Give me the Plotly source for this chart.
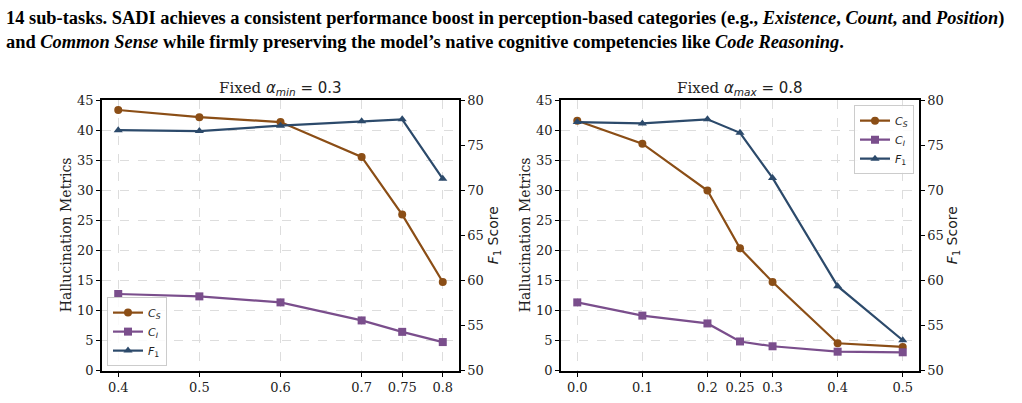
import plotly.graph_objects as go

# ---------------- data ----------------
x_left = [0.4, 0.5, 0.6, 0.7, 0.75, 0.8]
cs_left = [43.4, 42.2, 41.4, 35.6, 26.0, 14.8]
ci_left = [12.8, 12.4, 11.4, 8.4, 6.5, 4.8]
f1_left = [76.7, 76.6, 77.2, 77.7, 77.9, 71.3]

x_right = [0.0, 0.1, 0.2, 0.25, 0.3, 0.4, 0.5]
cs_right = [41.6, 37.8, 30.0, 20.4, 14.8, 4.6, 4.0]
ci_right = [11.4, 9.2, 7.9, 4.9, 4.1, 3.2, 3.1]
f1_right = [77.6, 77.45, 77.9, 76.4, 71.4, 59.4, 53.4]

left_ticks = ["0.4", "0.5", "0.6", "0.7", "0.75", "0.8"]
right_ticks = ["0.0", "0.1", "0.2", "0.25", "0.3", "0.4", "0.5"]

C_CS = "#8B4E16"
C_CI = "#7A4E8C"
C_F1 = "#2C4A6B"
SERIF = "DejaVu Serif"
SANS = "DejaVu Sans"

name_cs = "<i>C<sub>S</sub></i>"
name_ci = "<i>C<sub>I</sub></i>"
name_f1 = "<i>F</i><sub>1</sub>"

fig = go.Figure()

def add_series(x, y, color, symbol, name, xa, ya, legend):
    fig.add_trace(go.Scatter(
        x=x, y=y, mode="lines+markers", name=name,
        line=dict(color=color, width=2.2),
        marker=dict(color=color, symbol=symbol, size=8),
        xaxis=xa, yaxis=ya, legend=legend, showlegend=True))

add_series(x_left, cs_left, C_CS, "circle", name_cs, "x", "y", "legend")
add_series(x_left, ci_left, C_CI, "square", name_ci, "x", "y", "legend")
add_series(x_left, f1_left, C_F1, "triangle-up", name_f1, "x", "y2", "legend")
add_series(x_right, cs_right, C_CS, "circle", name_cs, "x2", "y3", "legend2")
add_series(x_right, ci_right, C_CI, "square", name_ci, "x2", "y3", "legend2")
add_series(x_right, f1_right, C_F1, "triangle-up", name_f1, "x2", "y4", "legend2")

W, H = 1022, 403
def px_x(p): return p / W
def px_y(p): return 1 - p / H

ydom = [px_y(378), px_y(97)]
xdom_l = [px_x(102), px_x(459)]
xdom_r = [px_x(561), px_x(919)]

tickfont = dict(family=SERIF, size=13, color="#222")
grid = dict(showgrid=True, gridcolor="#dddddd", griddash="dash", gridwidth=1)
common_x = dict(showline=True, linecolor="black", linewidth=1.5, mirror=True,
                ticks="outside", ticklen=4, tickcolor="black", tickfont=tickfont,
                zeroline=False, **grid)
common_y = dict(showline=True, linecolor="black", linewidth=1.5,
                ticks="outside", ticklen=4, tickcolor="black", tickfont=tickfont,
                zeroline=False)

fig.update_layout(
    width=W, height=H, margin=dict(l=0, r=0, t=0, b=0),
    paper_bgcolor="white", plot_bgcolor="white",
    xaxis=dict(domain=xdom_l, anchor="y", range=[0.38, 0.82],
               tickvals=x_left, ticktext=left_ticks, **common_x),
    yaxis=dict(domain=ydom, anchor="x", range=[0, 45], tickvals=list(range(0, 46, 5)),
               **common_y, **grid),
    yaxis2=dict(domain=ydom, anchor="x", overlaying="y", side="right", range=[50, 80],
                tickvals=list(range(50, 81, 5)), showgrid=False, **common_y),
    xaxis2=dict(domain=xdom_r, anchor="y3", range=[-0.025, 0.525],
                tickvals=x_right, ticktext=right_ticks, **common_x),
    yaxis3=dict(domain=ydom, anchor="x2", range=[0, 45], tickvals=list(range(0, 46, 5)),
                **common_y, **grid),
    yaxis4=dict(domain=ydom, anchor="x2", overlaying="y3", side="right", range=[50, 80],
                tickvals=list(range(50, 81, 5)), showgrid=False, **common_y),
    legend=dict(x=px_x(107), y=px_y(373), xanchor="left", yanchor="bottom",
                bgcolor="rgba(255,255,255,0.85)", bordercolor="#cccccc", borderwidth=1,
                font=dict(family=SANS, size=11, color="#222"), itemwidth=30,
                tracegroupgap=0),
    legend2=dict(x=px_x(914), y=px_y(102), xanchor="right", yanchor="top",
                 bgcolor="rgba(255,255,255,0.85)", bordercolor="#cccccc", borderwidth=1,
                 font=dict(family=SANS, size=11, color="#222"), itemwidth=30,
                 tracegroupgap=0),
)

ann = []
# subplot titles
ann.append(dict(x=px_x(280), y=px_y(85), xref="paper", yref="paper",
                xanchor="center", yanchor="middle",
                text="<span style='font-family:DejaVu Serif'>Fixed </span><i>α<sub>min</sub></i> = 0.3",
                showarrow=False, font=dict(family=SANS, size=15, color="#222")))
ann.append(dict(x=px_x(740), y=px_y(85), xref="paper", yref="paper",
                xanchor="center", yanchor="middle",
                text="<span style='font-family:DejaVu Serif'>Fixed </span><i>α<sub>max</sub></i> = 0.8",
                showarrow=False, font=dict(family=SANS, size=15, color="#222")))
# axis titles
for xp in (66, 525):
    ann.append(dict(x=px_x(xp), y=px_y(237), xref="paper", yref="paper",
                    xanchor="center", yanchor="middle",
                    text="Hallucination Metrics", textangle=-90, showarrow=False,
                    font=dict(family=SERIF, size=14, color="#222")))
for xp in (494, 953):
    ann.append(dict(x=px_x(xp), y=px_y(237), xref="paper", yref="paper",
                    xanchor="center", yanchor="middle",
                    text="<i>F</i><sub>1</sub> Score", textangle=-90, showarrow=False,
                    font=dict(family=SANS, size=14, color="#222")))
# caption text
ann.append(dict(x=px_x(4), y=px_y(12), xref="paper", yref="paper", xanchor="left", yanchor="middle",
                text="<b>14 sub-tasks. SADI achieves a consistent performance boost in perception-based categories (e.g., <i>Existence</i>, <i>Count</i>, and <i>Position</i>)</b>",
                showarrow=False, font=dict(family="Liberation Serif", size=18.4, color="black")))
ann.append(dict(x=px_x(4), y=px_y(36), xref="paper", yref="paper", xanchor="left", yanchor="middle",
                text="<b>and <i>Common Sense</i> while firmly preserving the model’s native cognitive competencies like <i>Code Reasoning</i>.</b>",
                showarrow=False, font=dict(family="Liberation Serif", size=18.4, color="black")))
fig.update_layout(annotations=ann)

fig.write_html("out.html")
